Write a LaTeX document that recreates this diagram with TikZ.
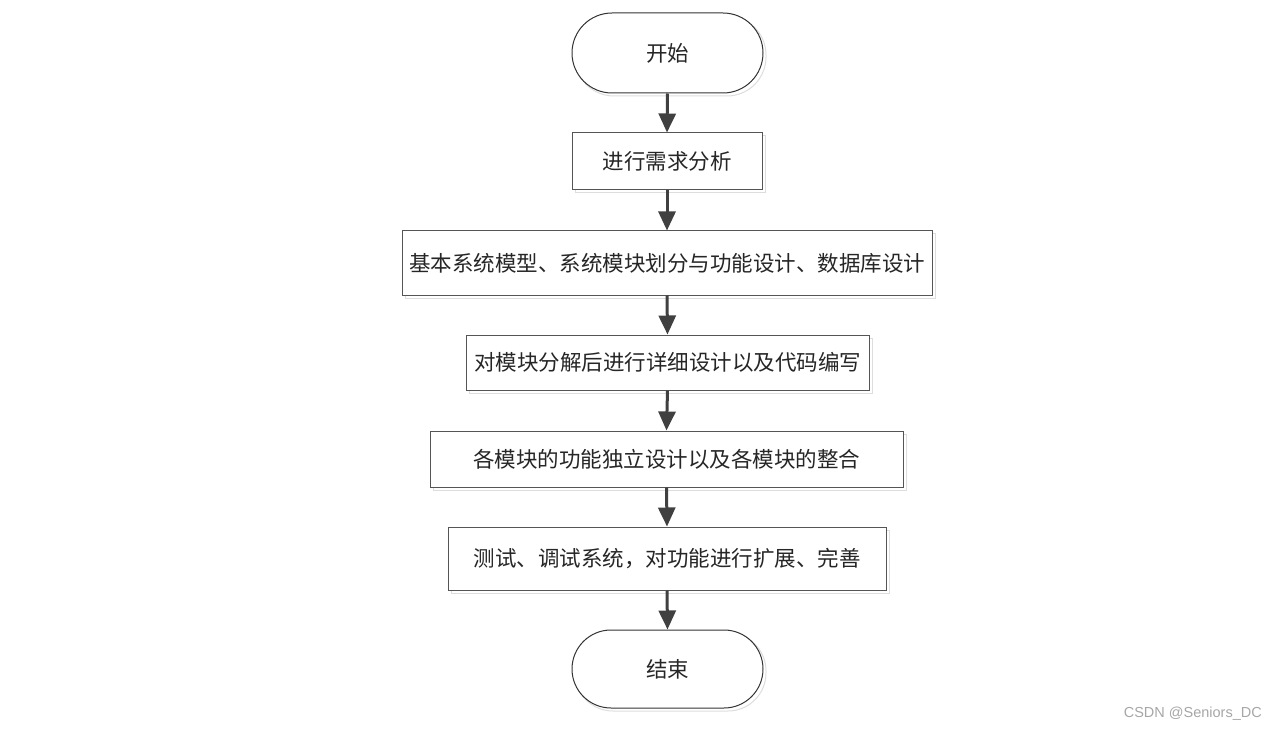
\documentclass[tikz,border=0pt]{standalone}
\usepackage{fontspec}
\setmainfont{Liberation Sans}
\newfontfamily\cjk{Noto Sans CJK SC}
\usetikzlibrary{arrows.meta,shapes.misc}
\definecolor{edge}{HTML}{555555}
\definecolor{arr}{HTML}{404040}
\definecolor{ghost}{HTML}{DDDDDD}
\tikzset{
  stepbox/.style={draw=edge, line width=1pt, rectangle, minimum height=#1, inner sep=0pt, font=\cjk\fontsize{21.5}{25}\selectfont, text=black!85},
  termbox/.style={draw=black!80, line width=1pt, rounded rectangle, minimum width=191pt, minimum height=80pt, inner sep=0pt, font=\cjk\fontsize{21.5}{25}\selectfont, text=black!85},
  flow/.style={draw=arr, line width=3pt, -{Triangle[width=17pt,length=19pt]}},
}
\begin{document}
\begin{tikzpicture}[x=1pt,y=-1pt]
\useasboundingbox (0,0) rectangle (1277,730);
% shadows
\draw[ghost, line width=1pt, rounded corners=39pt] (575,16) rectangle (766,96);
\draw[ghost, line width=1pt] (575,136) rectangle (765,193);
\draw[ghost, line width=1pt] (405,234) rectangle (935,298);
\draw[ghost, line width=1pt] (469,338) rectangle (872,393);
\draw[ghost, line width=1pt] (433,434) rectangle (906,490);
\draw[ghost, line width=1pt] (451,530) rectangle (889,593);
\draw[ghost, line width=1pt, rounded corners=38pt] (575,633) rectangle (766,711);
% nodes
\node[termbox, fill=white] (start) at (667.5,53) {开始};
\node[stepbox=57pt, minimum width=190pt, fill=white] (s1) at (667,161.5) {进行需求分析};
\node[stepbox=64pt, minimum width=530pt, fill=white] (s2) at (667,263) {基本系统模型、系统模块划分与功能设计、数据库设计};
\node[stepbox=55pt, minimum width=403pt, fill=white] (s3) at (667.5,362.5) {对模块分解后进行详细设计以及代码编写};
\node[stepbox=56pt, minimum width=473pt, fill=white] (s4) at (666.5,459) {各模块的功能独立设计以及各模块的整合};
\node[stepbox=63pt, minimum width=438pt, fill=white] (s5) at (667,558.5) {测试、调试系统，对功能进行扩展、完善};
\node[termbox, minimum height=78pt, fill=white] (end) at (667.5,669) {结束};
% connectors
\draw[flow] (start.south) -- (s1.north);
\draw[flow] (s1.south) -- (s2.north);
\draw[flow] (s2.south) -- (s3.north);
\draw[flow] (s3.south) -- (s4.north);
\draw[flow] (s4.south) -- (s5.north);
\draw[flow] (s5.south) -- (end.north);
% watermark
\node[text=black!35, font=\fontsize{14.5}{17}\selectfont, anchor=east, inner sep=0pt] (wm) at (1262,714) {CSDN @Seniors\_DC};
\end{tikzpicture}
\end{document}
